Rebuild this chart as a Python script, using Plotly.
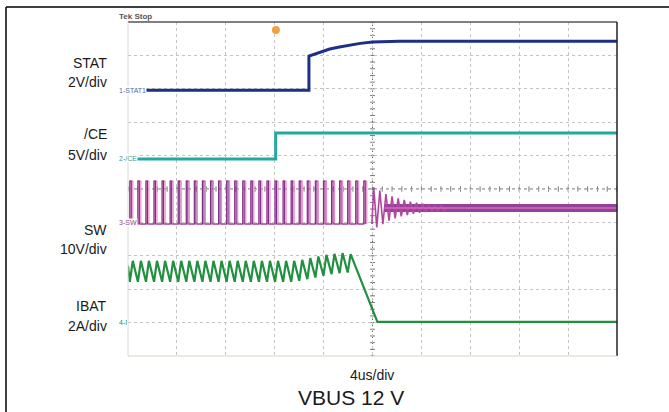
import plotly.graph_objects as go

# ---------------- data ----------------
# time axis: microseconds (4 us/div, 10 div); vertical axis: screen divisions (0..10)
stat_t = [0, 14.8, 14.8, 15.7, 16.5, 17.3, 18.2, 19.0, 20.0, 22.2, 40]
stat_v = [7.96, 7.96, 8.98, 9.10, 9.19, 9.25, 9.31, 9.36, 9.40, 9.42, 9.42]

ce_t = [0, 12.08, 12.08, 40]
ce_v = [5.90, 5.90, 6.68, 6.68]

sw_rise_us = [0.15, 0.81, 1.47, 2.13, 2.79, 3.45, 4.11, 4.77, 5.43, 6.09,
              6.75, 7.41, 8.07, 8.73, 9.39, 10.05, 10.71, 11.37, 12.03, 12.69,
              13.35, 14.01, 14.67, 15.33, 15.99, 16.65, 17.31, 17.97, 18.63, 19.29]
sw_on_us = 0.24
sw_low = 3.95
sw_high = 5.24
sw_ring_t = [19.95, 20.1, 20.35, 20.6, 20.85, 21.1, 21.35, 21.6, 21.85, 22.1, 22.35,
             22.6, 22.85, 23.1, 23.35, 23.6, 23.85, 24.1, 24.35, 24.6, 24.85,
             25.1, 25.35, 25.6, 25.85, 26.1]
sw_ring_v = [3.95, 5.05, 3.85, 4.95, 3.95, 4.85, 4.05, 4.78, 4.12, 4.72, 4.18,
             4.67, 4.22, 4.62, 4.26, 4.59, 4.29, 4.56, 4.31, 4.54, 4.33,
             4.52, 4.34, 4.51, 4.35, 4.43]
sw_settle_t = [21.0, 40]
sw_settle_v = [4.43, 4.43]

ibat_valley = [2.22] * 21 + [2.25, 2.30, 2.35, 2.40, 2.45, 2.48, 2.50]
ibat_peak = [2.85] * 21 + [2.88, 2.93, 2.98, 3.03, 3.06, 3.08, 3.05]
ibat_tail_t = [20.4, 40]
ibat_tail_v = [1.02, 1.02]

trigger_marks_us = [12.1]
trigger_marks_div = [9.76]
time_marker_us = [16.2]
left_labels = [("STAT", "2V/div"), ("/CE", "5V/div"), ("SW", "10V/div"), ("IBAT", "2A/div")]

# ---------------- geometry ----------------
W, H = 669, 412
L, R, T, B = 128, 617, 22, 356


def pxx(px):
    return (px - L) / (R - L)


def pyy(py):
    return (B - py) / (B - T)


# build SW square waves
def square(width):
    xs, ys = [0], [sw_low]
    for r in sw_rise_us:
        xs += [r, r, r + width, r + width]
        ys += [sw_low, sw_high, sw_high, sw_low]
    return xs, ys


sw_pink_x, sw_pink_y = square(sw_on_us)
sw_dark_x, sw_dark_y = square(sw_on_us / 2)

ib_x, ib_y = [], []
for r, vl, vp in zip(sw_rise_us, ibat_valley, ibat_peak):
    ib_x += [r, r + sw_on_us]
    ib_y += [vl, vp]
ib_x = [0] + ib_x + ibat_tail_t
ib_y = [ibat_peak[0] - 0.15] + ib_y + ibat_tail_v

fig = go.Figure()
# SW
fig.add_trace(go.Scatter(x=sw_settle_t, y=sw_settle_v, mode="lines",
                         line=dict(color="#93409a", width=8)))
fig.add_trace(go.Scatter(x=sw_pink_x, y=sw_pink_y, mode="lines",
                         line=dict(color="#ef86c6", width=1.2)))
fig.add_trace(go.Scatter(x=sw_dark_x, y=sw_dark_y, mode="lines",
                         line=dict(color="#7d2f86", width=1.1)))
fig.add_trace(go.Scatter(x=sw_ring_t, y=sw_ring_v, mode="lines",
                         line=dict(color="#b0479f", width=1.6)))
fig.add_trace(go.Scatter(x=sw_settle_t, y=sw_settle_v, mode="lines",
                         line=dict(color="#d86ab8", width=1.5)))
# STAT
fig.add_trace(go.Scatter(x=stat_t, y=stat_v, mode="lines",
                         line=dict(color="#1d2f86", width=3)))
# CE
fig.add_trace(go.Scatter(x=ce_t, y=ce_v, mode="lines",
                         line=dict(color="#25a8a2", width=3)))
# IBAT
fig.add_trace(go.Scatter(x=ib_x, y=ib_y, mode="lines",
                         line=dict(color="#22913f", width=2.2)))
# trigger markers
fig.add_trace(go.Scatter(x=trigger_marks_us, y=trigger_marks_div, mode="markers",
                         marker=dict(color="#f0a040", size=8, symbol="circle"),
                         cliponaxis=False))
fig.add_trace(go.Scatter(x=time_marker_us, y=[10.1] * len(time_marker_us), mode="markers",
                         marker=dict(color="#f0a040", size=6, symbol="triangle-down"),
                         cliponaxis=False))

shapes = []
# outer frame
shapes.append(dict(type="line", xref="paper", yref="paper", x0=pxx(6), x1=pxx(669),
                   y0=pyy(7), y1=pyy(7), line=dict(color="#000", width=1.5)))
shapes.append(dict(type="line", xref="paper", yref="paper", x0=pxx(6), x1=pxx(6),
                   y0=pyy(7), y1=pyy(412), line=dict(color="#000", width=1.5)))
# scope border
shapes.append(dict(type="line", xref="paper", yref="paper", x0=0, x1=1, y0=1, y1=1,
                   line=dict(color="#555", width=1.5)))
shapes.append(dict(type="line", xref="paper", yref="paper", x0=1, x1=1, y0=0, y1=1,
                   line=dict(color="#222", width=1.5)))
shapes.append(dict(type="line", xref="paper", yref="paper", x0=0, x1=0, y0=0, y1=1,
                   line=dict(color="#d8d8d8", width=1)))
shapes.append(dict(type="line", xref="paper", yref="paper", x0=0, x1=1, y0=0, y1=0,
                   line=dict(color="#e0cfc0", width=1)))
# center crosshair
shapes.append(dict(type="line", x0=20, x1=20, y0=0, y1=10, layer="below",
                   line=dict(color="#666", width=1, dash="dot")))
shapes.append(dict(type="line", x0=0, x1=40, y0=5, y1=5, layer="below",
                   line=dict(color="#666", width=1, dash="dot")))
for i in range(51):
    shapes.append(dict(type="line", x0=i * 0.8, x1=i * 0.8, y0=4.92, y1=5.08, layer="below",
                       line=dict(color="#777", width=1)))
    shapes.append(dict(type="line", x0=19.8, x1=20.2, y0=i * 0.2, y1=i * 0.2, layer="below",
                       line=dict(color="#777", width=1)))

annotations = []
label_y = [(63, 82), (134, 155), (230, 249), (306, 326)]
for (a, b), (ya, yb) in zip(left_labels, label_y):
    for txt, yy in ((a, ya), (b, yb)):
        annotations.append(dict(text=txt, xref="paper", yref="paper", x=pxx(109), y=pyy(yy),
                                xanchor="right", yanchor="middle", showarrow=False,
                                font=dict(family="Liberation Sans, Arial", size=14, color="#1a1a1a")))
annotations.append(dict(text="4us/div", xref="paper", yref="paper", x=pxx(372), y=pyy(375),
                        xanchor="center", yanchor="middle", showarrow=False,
                        font=dict(family="Liberation Sans, Arial", size=14, color="#1a1a1a")))
annotations.append(dict(text="VBUS 12 V", xref="paper", yref="paper", x=pxx(351), y=pyy(397),
                        xanchor="center", yanchor="middle", showarrow=False,
                        font=dict(family="Liberation Sans, Arial", size=21, color="#1a1a1a")))
annotations.append(dict(text="<b>Tek Stop</b>", xref="paper", yref="paper", x=pxx(117), y=pyy(17),
                        xanchor="left", yanchor="middle", showarrow=False,
                        font=dict(family="Liberation Sans, Arial", size=8, color="#555")))
for txt, col, yy in (("1-STAT1", "#5a6a9a", 90), ("2-/CE", "#3a9a95", 158),
                     ("3-SW", "#8a4a8a", 222), ("4-I", "#1f9a3c", 322)):
    annotations.append(dict(text=txt, xref="paper", yref="paper", x=pxx(118), y=pyy(yy),
                            xanchor="left", yanchor="middle", showarrow=False, bgcolor="white",
                            borderpad=0,
                            font=dict(family="Liberation Sans, Arial", size=7, color=col)))

fig.update_layout(
    width=W, height=H, autosize=False,
    margin=dict(l=L, r=W - R, t=T, b=H - B),
    paper_bgcolor="white", plot_bgcolor="white",
    showlegend=False,
    xaxis=dict(range=[0, 40], dtick=4, showgrid=True, gridcolor="#c4c4c4", griddash="dot",
               gridwidth=1, zeroline=False, showticklabels=False, ticks="", fixedrange=True),
    yaxis=dict(range=[0, 10], dtick=1, showgrid=True, gridcolor="#c4c4c4", griddash="dot",
               gridwidth=1, zeroline=False, showticklabels=False, ticks="", fixedrange=True),
    shapes=shapes, annotations=annotations,
)
fig.write_html("out.html", config={"displayModeBar": False},
               post_script="document.body.style.margin='0';document.body.style.padding='0';")
